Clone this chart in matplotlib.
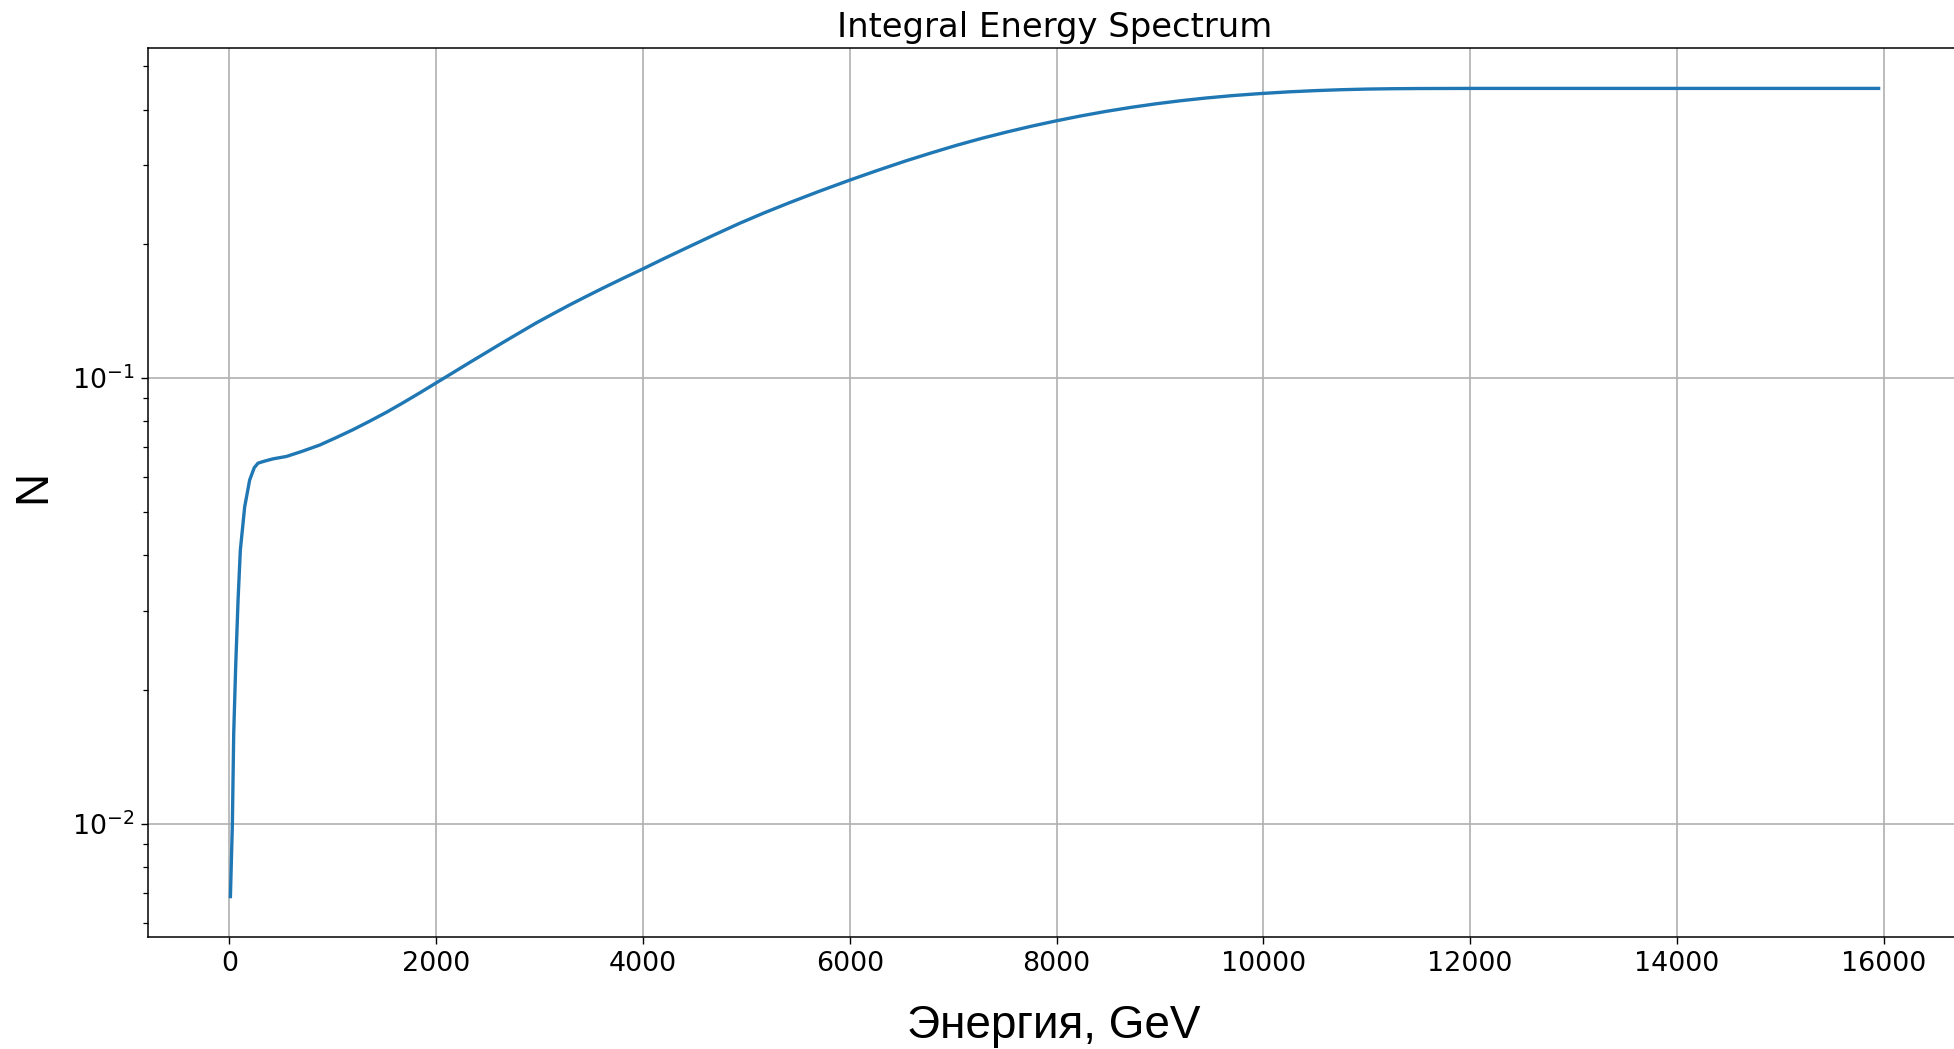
import matplotlib
matplotlib.use("Agg")
import matplotlib.pyplot as plt
from matplotlib.ticker import NullFormatter

# Energy values (GeV) and integral counts
energy = [10, 29, 42, 61, 84, 106, 148, 196, 240, 277, 330, 420, 551, 700,
          873, 1030, 1195, 1360, 1518, 1680, 1840, 2007, 2160, 2323, 2480,
          2645, 2800, 2968, 3130, 3290, 3450, 3611, 3800, 3998, 4200, 4418,
          4680, 4933, 5170, 5416, 5700, 6003, 6270, 6544, 6780, 7028, 7270,
          7511, 7750, 7994, 8230, 8478, 8720, 8961, 9200, 9444, 9700, 9959,
          10250, 10500, 10750, 11007, 11250, 11500, 12000, 13000, 14000,
          15000, 15950]
counts = [0.00687, 0.0100, 0.01596, 0.02254, 0.03177, 0.04111, 0.05140,
          0.05902, 0.06289, 0.06442, 0.06499, 0.06585, 0.06668, 0.06843,
          0.07072, 0.07345, 0.07656, 0.08008, 0.08375, 0.08800, 0.09257,
          0.09772, 0.1027, 0.1083, 0.1139, 0.1201, 0.1261, 0.1329, 0.1393,
          0.1458, 0.1523, 0.1590, 0.1670, 0.1756, 0.1851, 0.1956, 0.2089,
          0.2222, 0.2345, 0.2472, 0.2620, 0.2780, 0.2922, 0.3069, 0.3193,
          0.3323, 0.3444, 0.3558, 0.3667, 0.3772, 0.3868, 0.3962, 0.4045,
          0.4120, 0.4186, 0.4245, 0.4298, 0.4342, 0.4383, 0.4410, 0.4431,
          0.4446, 0.4454, 0.4458, 0.4461, 0.4461, 0.4461, 0.4461, 0.4461]

title = "Integral Energy Spectrum"
xlabel = "Энергия, GeV"
ylabel = "N"

W, H = 1954, 1049
fig = plt.figure(figsize=(W / 100, H / 100), dpi=100)
ax = fig.add_axes([148 / W, 1 - 937 / H, (1961 - 148) / W, (937 - 48) / H])

ax.plot(energy, counts, color="#1f77b4", lw=2.4, solid_joinstyle="round")
ax.set_yscale("log")
ax.grid(True, which="major", color="#b0b0b0", lw=1.2)

for s in ax.spines.values():
    s.set_linewidth(1.1)
ax.tick_params(axis="both", which="major", labelsize=19.4, length=5, width=1.0, pad=5)
ax.tick_params(axis="both", which="minor", length=3.4, width=0.9)
ax.yaxis.set_minor_formatter(NullFormatter())

ax.set_title(title, fontsize=24.4, pad=8, family="DejaVu Sans")

fig.text(1054 / W, 1 - 1038 / H, xlabel, fontsize=33, ha="center", va="baseline",
         family=["Liberation Sans", "DejaVu Sans"])
fig.text(33.7 / W, 1 - 486 / H, ylabel, fontsize=33, ha="center", va="center",
         rotation=90, family=["Liberation Sans", "DejaVu Sans"])

fig.savefig("out.png", dpi=100)
